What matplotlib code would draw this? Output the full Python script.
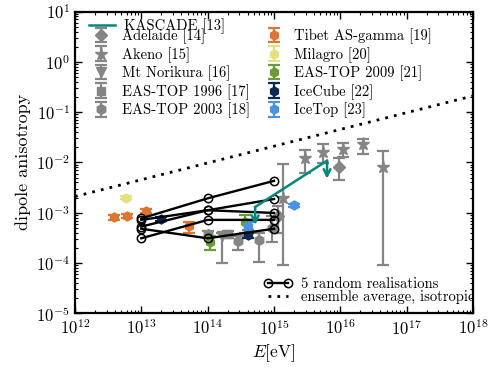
import matplotlib
matplotlib.use("Agg")
import matplotlib.pyplot as plt
import numpy as np
from matplotlib.lines import Line2D

plt.rcParams['font.family'] = 'cmr10'
plt.rcParams['mathtext.fontset'] = 'cm'
plt.rcParams['axes.formatter.use_mathtext'] = True

# ---------------- data ----------------
ens_E = [1e12, 1e18]
ens_A = [2.1e-3, 0.21]

real_E = [1e13, 1e14, 1e15]
real_1 = [7.7e-4, 1.93e-3, 4.3e-3]
real_2 = [7.2e-4, 1.12e-3, 1.87e-3]
real_3 = [5.3e-4, 1.12e-3, 9.9e-4]
real_4 = [3.1e-4, 7.2e-4, 7.2e-4]
real_5 = [4.8e-4, 3.1e-4, 4.8e-4]

kascade_E = [5.2e14, 6.3e15]
kascade_A = [1.3e-3, 1.08e-2]

adelaide_E = [1.15e15, 9.6e15]
adelaide_A = [8.6e-4, 8.2e-3]
adelaide_lo = [4.0e-4, 4.5e-3]
adelaide_hi = [1.35e-3, 1.2e-2]

akeno_E = [1.38e15, 2.9e15, 5.4e15, 1.1e16, 2.2e16, 4.4e16]
akeno_A = [2.0e-3, 1.21e-2, 1.63e-2, 1.82e-2, 2.3e-2, 8.0e-3]
akeno_lo = [9e-5, 6.1e-3, 9.6e-3, 1.3e-2, 1.5e-2, 9e-5]
akeno_hi = [9.2e-3, 1.77e-2, 2.3e-2, 2.4e-2, 2.9e-2, 1.7e-2]

norikura_E = [1.63e14]
norikura_A = [3.4e-4]
norikura_lo = [1.0e-4]
norikura_hi = [3.9e-4]

eastop96_E = [2.0e14]
eastop96_A = [3.7e-4]
eastop96_lo = [3.1e-4]
eastop96_hi = [4.3e-4]

eastop03_E = [1.0e14, 2.9e14, 5.9e14, 9.3e14]
eastop03_A = [3.7e-4, 2.7e-4, 2.86e-4, 4.9e-4]
eastop03_lo = [3.1e-4, 1.8e-4, 1.06e-4, 2.6e-4]
eastop03_hi = [4.3e-4, 3.4e-4, 3.9e-4, 8.6e-4]

tibet_E = [3.9e12, 6.1e12, 1.18e13, 5.3e13]
tibet_A = [8.1e-4, 8.6e-4, 1.1e-3, 5.4e-4]
tibet_lo = [7.3e-4, 7.8e-4, 1.0e-3, 4.0e-4]
tibet_hi = [8.9e-4, 9.4e-4, 1.2e-3, 6.6e-4]

milagro_E = [5.9e12]
milagro_A = [2.0e-3]
milagro_lo = [1.85e-3]
milagro_hi = [2.15e-3]

eastop09_E = [1.1e14, 3.7e14]
eastop09_A = [2.6e-4, 6.4e-4]
eastop09_lo = [1.8e-4, 3.9e-4]
eastop09_hi = [3.4e-4, 8.9e-4]

icecube_E = [2.0e13, 4.0e14]
icecube_A = [7.5e-4, 3.6e-4]
icecube_lo = [6.8e-4, 3.2e-4]
icecube_hi = [8.2e-4, 4.0e-4]

icetop_E = [4.0e14, 2.0e15]
icetop_A = [5.5e-4, 1.4e-3]
icetop_lo = [4.5e-4, 1.3e-3]
icetop_hi = [6.6e-4, 1.5e-3]

# ---------------- figure ----------------
fig = plt.figure(figsize=(4.99, 3.70), dpi=100)
ax = fig.add_axes([0.1503, 0.1532, 0.7976, 0.8157])
ax.set_xscale('log')
ax.set_yscale('log')
ax.set_xlim(1e12, 1e18)
ax.set_ylim(1e-5, 1e1)

gray = '#858585'

def eb(E, A, lo, hi, color, marker, label, ms=6.5, z=3):
    A = np.array(A); lo = np.array(lo); hi = np.array(hi)
    return ax.errorbar(E, A, yerr=[A - lo, hi - A], fmt=marker, color=color,
                       mec=color, mfc=color, ms=ms, elinewidth=1.6, capsize=4,
                       capthick=1.6, label=label, zorder=z)

h_ad = eb(adelaide_E, adelaide_A, adelaide_lo, adelaide_hi, gray, 'D', 'Adelaide [14]', ms=6)
h_ak = eb(akeno_E, akeno_A, akeno_lo, akeno_hi, gray, '*', 'Akeno [15]', ms=9.5)
h_no = eb(norikura_E, norikura_A, norikura_lo, norikura_hi, gray, 'v', 'Mt Norikura [16]', ms=7.5)
h_96 = eb(eastop96_E, eastop96_A, eastop96_lo, eastop96_hi, gray, 's', 'EAS-TOP 1996 [17]', ms=5.5)
h_03 = eb(eastop03_E, eastop03_A, eastop03_lo, eastop03_hi, gray, 'h', 'EAS-TOP 2003 [18]', ms=7)

h_ti = eb(tibet_E, tibet_A, tibet_lo, tibet_hi, '#dd7431', 'h', 'Tibet AS-gamma [19]', ms=6.5, z=4)
h_mi = eb(milagro_E, milagro_A, milagro_lo, milagro_hi, '#e1e27f', 'h', 'Milagro [20]', ms=6.5, z=4)
h_09 = eb(eastop09_E, eastop09_A, eastop09_lo, eastop09_hi, '#6b9b37', 'h', 'EAS-TOP 2009 [21]', ms=6.5, z=4)
h_ic = eb(icecube_E, icecube_A, icecube_lo, icecube_hi, '#0a2850', 'h', 'IceCube [22]', ms=6.5, z=4)
h_it = eb(icetop_E, icetop_A, icetop_lo, icetop_hi, '#4b93e0', 'h', 'IceTop [23]', ms=6.5, z=4)

# ensemble average
h_ens, = ax.plot(ens_E, ens_A, color='black', lw=2, linestyle=(0, (1, 2.2)),
                 label='ensemble average, isotropic', zorder=5)

# realisations
for r in [real_1, real_2, real_3, real_4, real_5]:
    ax.plot(real_E, r, color='black', lw=1.7, marker='o', ms=6,
            mfc='none', mec='black', mew=1.1, zorder=6)

# KASCADE upper limits
teal = '#00877e'
h_ka, = ax.plot(kascade_E, kascade_A, color=teal, lw=1.8, zorder=7, label='KASCADE [13]')
for E, A in zip(kascade_E, kascade_A):
    ax.annotate('', xy=(E, A * 0.44), xytext=(E, A),
                arrowprops=dict(arrowstyle='->', color=teal, lw=1.8,
                                mutation_scale=12, shrinkA=0, shrinkB=0),
                zorder=7)

# axes styling
for s in ax.spines.values():
    s.set_linewidth(1.6)
ax.tick_params(which='both', direction='in', top=True, right=True, labelsize=12)
ax.tick_params(which='major', length=5, width=1.0)
ax.tick_params(which='minor', length=2.5, width=0.8)
ax.xaxis.set_major_locator(matplotlib.ticker.LogLocator(base=10, numticks=20))
ax.xaxis.set_minor_locator(matplotlib.ticker.LogLocator(base=10, subs=np.arange(2, 10), numticks=20))
ax.yaxis.set_major_locator(matplotlib.ticker.LogLocator(base=10, numticks=20))
ax.yaxis.set_minor_locator(matplotlib.ticker.LogLocator(base=10, subs=np.arange(2, 10), numticks=20))
ax.xaxis.set_minor_formatter(matplotlib.ticker.NullFormatter())
ax.yaxis.set_minor_formatter(matplotlib.ticker.NullFormatter())

ax.set_xlabel(r'$E\mathrm{[eV]}$', fontsize=12.5, labelpad=3)
ax.set_ylabel('dipole anisotropy', fontsize=13, labelpad=4)

# legends
leg_kw = dict(frameon=False, fontsize=10.5, borderpad=0, borderaxespad=0)
leg1 = ax.legend(handles=[h_ka], loc='upper left', bbox_to_anchor=(0.034, 0.978),
                 handlelength=1.8, handletextpad=0.6, **leg_kw)
ax.add_artist(leg1)
leg2a = ax.legend(handles=[h_ad, h_ak, h_no, h_96, h_03], loc='upper left',
                  bbox_to_anchor=(0.0477, 0.944), handlelength=1.0, handletextpad=0.9,
                  labelspacing=0.2, **leg_kw)
ax.add_artist(leg2a)
leg2b = ax.legend(handles=[h_ti, h_mi, h_09, h_ic, h_it], loc='upper left',
                  bbox_to_anchor=(0.4817, 0.944), handlelength=1.0, handletextpad=0.9,
                  labelspacing=0.2, **leg_kw)
ax.add_artist(leg2b)
h_rl = Line2D([], [], color='black', lw=1.7, marker='o', ms=6, mfc='none', mec='black', mew=1.1)
leg3 = ax.legend(handles=[h_rl, h_ens], labels=['5 random realisations', 'ensemble average, isotropic'],
                 loc='lower right', bbox_to_anchor=(1.005, 0.03),
                 handlelength=2.0, handletextpad=0.6, labelspacing=-0.1,
                 numpoints=2, **leg_kw)

fig.savefig('out.png', dpi=100)
